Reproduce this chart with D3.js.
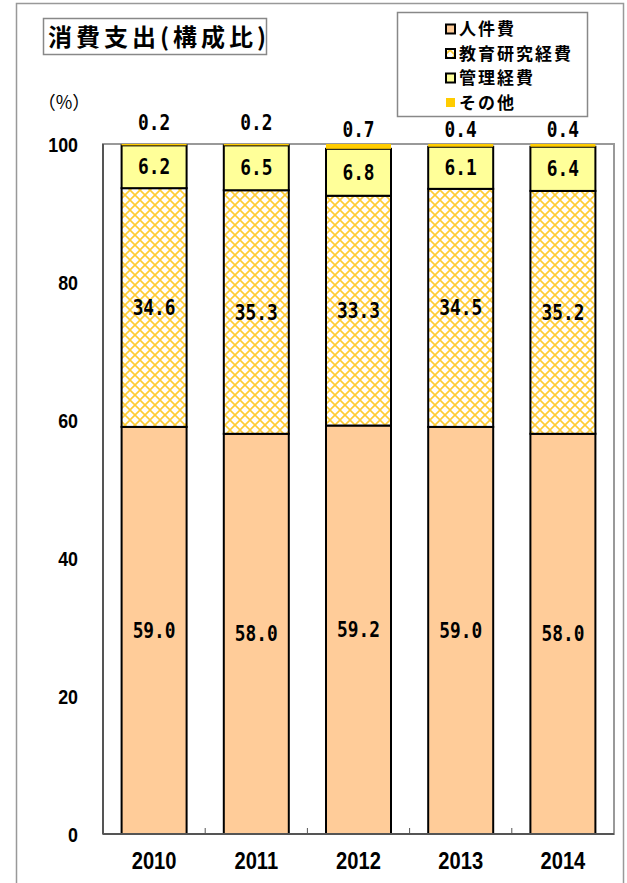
<!DOCTYPE html>
<html>
<head>
<meta charset="utf-8">
<script src="https://cdn.jsdelivr.net/npm/d3@7/dist/d3.min.js"></script>
<style>
  html, body { margin: 0; padding: 0; background: #fff; }
  svg { display: block; }
</style>
</head>
<body>
<svg id="chart" width="627" height="883"></svg>
<script>
// Composition of consumption expenditure by fiscal year (%)
const years = ["2010", "2011", "2012", "2013", "2014"];
const seriesNames = ["人件費", "教育研究経費", "管理経費", "その他"];
const personnel = [59.0, 58.0, 59.2, 59.0, 58.0];
const education = [34.6, 35.3, 33.3, 34.5, 35.2];
const management = [6.2, 6.5, 6.8, 6.1, 6.4];
const other = [0.2, 0.2, 0.7, 0.4, 0.4];
const yTicks = [0, 20, 40, 60, 80, 100];

const seriesValues = [personnel, education, management, other];

const svg = d3.select("#chart");
const monoFont = "'DejaVu Sans Mono', 'Liberation Mono', monospace";
const sansFont = "'Liberation Sans', Arial, sans-serif";
const cjkFont = "'Noto Sans CJK JP', sans-serif";

// outer frame
svg.append("rect")
  .attr("x", 16.5).attr("y", 3.5)
  .attr("width", 607).attr("height", 900)
  .attr("fill", "none").attr("stroke", "#999").attr("stroke-width", 1.5);

// lattice pattern for 教育研究経費
const defs = svg.append("defs");
const P = 10;
const pat = defs.append("pattern")
  .attr("id", "hatch").attr("patternUnits", "userSpaceOnUse")
  .attr("width", P).attr("height", P);
pat.append("rect").attr("width", P).attr("height", P).attr("fill", "#fff");
pat.append("path").attr("d", `M0,0 L${P},${P} M${P},0 L0,${P}`)
  .attr("stroke", "#FFCC33").attr("stroke-width", 1.6).attr("fill", "none");

const fills = ["#FFCC99", "url(#hatch)", "#FFFF99", "#FFCC00"];

const plot = { left: 103, right: 614, top: 144, bottom: 834 };
const legendBox = { x: 397.5, y: 12.5, w: 190, h: 104 };

const x = d3.scaleBand().domain(years)
  .range([plot.left, plot.right]).paddingInner(0.364).paddingOuter(0.182);
const y = d3.scaleLinear().domain([0, 100]).range([plot.bottom, plot.top]);

// horizontally condensed text, positioned from data-x / data-y
function narrowText(sel, sx) {
  return sel.attr("transform", function() {
    const tx = +this.getAttribute("data-x"), ty = +this.getAttribute("data-y");
    return `translate(${tx},${ty}) scale(${sx},1)`;
  });
}

// plot area frame
svg.append("rect")
  .attr("x", plot.left).attr("y", plot.top)
  .attr("width", plot.right - plot.left).attr("height", plot.bottom - plot.top)
  .attr("fill", "none").attr("stroke", "#999").attr("stroke-width", 2);

// stacked data
const rows = years.map((yr, i) => {
  const o = { year: yr };
  seriesNames.forEach((s, k) => { o[s] = seriesValues[k][i]; });
  return o;
});
const stack = d3.stack().keys(seriesNames)(rows);
const bw = x.bandwidth();

stack.forEach((layer, k) => {
  svg.append("g").selectAll("rect").data(layer).join("rect")
    .attr("x", d => x(d.data.year))
    .attr("y", d => y(d[1]))
    .attr("width", bw)
    .attr("height", d => y(d[0]) - y(d[1]))
    .attr("fill", fills[k])
    .attr("stroke", k === 3 ? "none" : "#000")
    .attr("stroke-width", 2);
});

// axis lines
svg.append("line")
  .attr("x1", plot.left).attr("x2", plot.left)
  .attr("y1", plot.top).attr("y2", plot.bottom)
  .attr("stroke", "#555").attr("stroke-width", 2);
svg.append("line")
  .attr("x1", plot.left).attr("x2", plot.right)
  .attr("y1", plot.bottom).attr("y2", plot.bottom)
  .attr("stroke", "#555").attr("stroke-width", 2);

// category boundary ticks
const bounds = d3.range(1, years.length).map(i => plot.left + i * (plot.right - plot.left) / years.length);
svg.selectAll("line.tick").data(bounds).join("line")
  .attr("class", "tick")
  .attr("x1", d => d).attr("x2", d => d)
  .attr("y1", plot.bottom).attr("y2", plot.bottom - 6)
  .attr("stroke", "#555").attr("stroke-width", 1);

// y tick labels
svg.selectAll("text.ylab").data(yTicks).join("text")
  .attr("class", "ylab")
  .attr("data-x", 78).attr("data-y", d => y(d))
  .attr("dy", "0.36em")
  .attr("text-anchor", "end")
  .attr("font-family", sansFont)
  .attr("font-weight", "bold").attr("font-size", 21)
  .text(d => d)
  .call(narrowText, 0.85);

svg.append("text")
  .attr("x", 64).attr("y", 103).attr("dy", "0.36em")
  .attr("text-anchor", "middle")
  .attr("font-family", cjkFont).attr("font-size", 18)
  .text("（%）");

// x labels
svg.selectAll("text.xlab").data(years).join("text")
  .attr("class", "xlab")
  .attr("data-x", d => x(d) + bw / 2).attr("data-y", 860)
  .attr("dy", "0.36em")
  .attr("text-anchor", "middle")
  .attr("font-family", sansFont)
  .attr("font-weight", "bold").attr("font-size", 24)
  .text(d => d)
  .call(narrowText, 0.84);

// value labels inside segments
stack.slice(0, 3).forEach(layer => {
  svg.append("g").selectAll("text").data(layer).join("text")
    .attr("data-x", d => x(d.data.year) + bw / 2)
    .attr("data-y", d => (y(d[0]) + y(d[1])) / 2)
    .attr("dy", "0.36em")
    .attr("text-anchor", "middle")
    .attr("font-family", monoFont)
    .attr("font-weight", "bold").attr("font-size", 21)
    .text(d => (d[1] - d[0]).toFixed(1))
    .call(narrowText, 0.85);
});

// その他 values above the plot; the right-hand ones sit a little lower,
// clear of the legend box
const plotMid = (plot.left + plot.right) / 2;
svg.append("g").selectAll("text").data(stack[3]).join("text")
  .attr("data-x", d => x(d.data.year) + bw / 2)
  .attr("data-y", d => (x(d.data.year) + bw / 2 > plotMid - 20 ? 129 : 122))
  .attr("dy", "0.36em")
  .attr("text-anchor", "middle")
  .attr("font-family", monoFont)
  .attr("font-weight", "bold").attr("font-size", 21)
  .text(d => (d[1] - d[0]).toFixed(1))
  .call(narrowText, 0.85);

// title box
svg.append("rect")
  .attr("x", 43.5).attr("y", 18.5).attr("width", 223).attr("height", 36)
  .attr("fill", "#fff").attr("stroke", "#888").attr("stroke-width", 1.5);
svg.append("text")
  .attr("x", 48).attr("y", 37).attr("dy", "0.36em")
  .attr("font-family", cjkFont)
  .attr("font-weight", "bold").attr("font-size", 24)
  .attr("letter-spacing", 4)
  .text("消費支出(構成比)");

// legend
svg.append("rect")
  .attr("x", legendBox.x).attr("y", legendBox.y)
  .attr("width", legendBox.w).attr("height", legendBox.h)
  .attr("fill", "#fff").attr("stroke", "#888").attr("stroke-width", 1.5);
const legendY = [29, 53.5, 78, 102.5];
seriesNames.forEach((s, k) => {
  svg.append("rect")
    .attr("x", 446).attr("y", legendY[k] - 4.5)
    .attr("width", 9).attr("height", 9)
    .attr("fill", fills[k])
    .attr("stroke", k === 3 ? "none" : "#000").attr("stroke-width", 2);
  svg.append("text")
    .attr("x", 459).attr("y", legendY[k]).attr("dy", "0.36em")
    .attr("font-family", cjkFont)
    .attr("font-weight", "bold").attr("font-size", 17)
    .attr("letter-spacing", 2)
    .text(s);
});
</script>
</body>
</html>
